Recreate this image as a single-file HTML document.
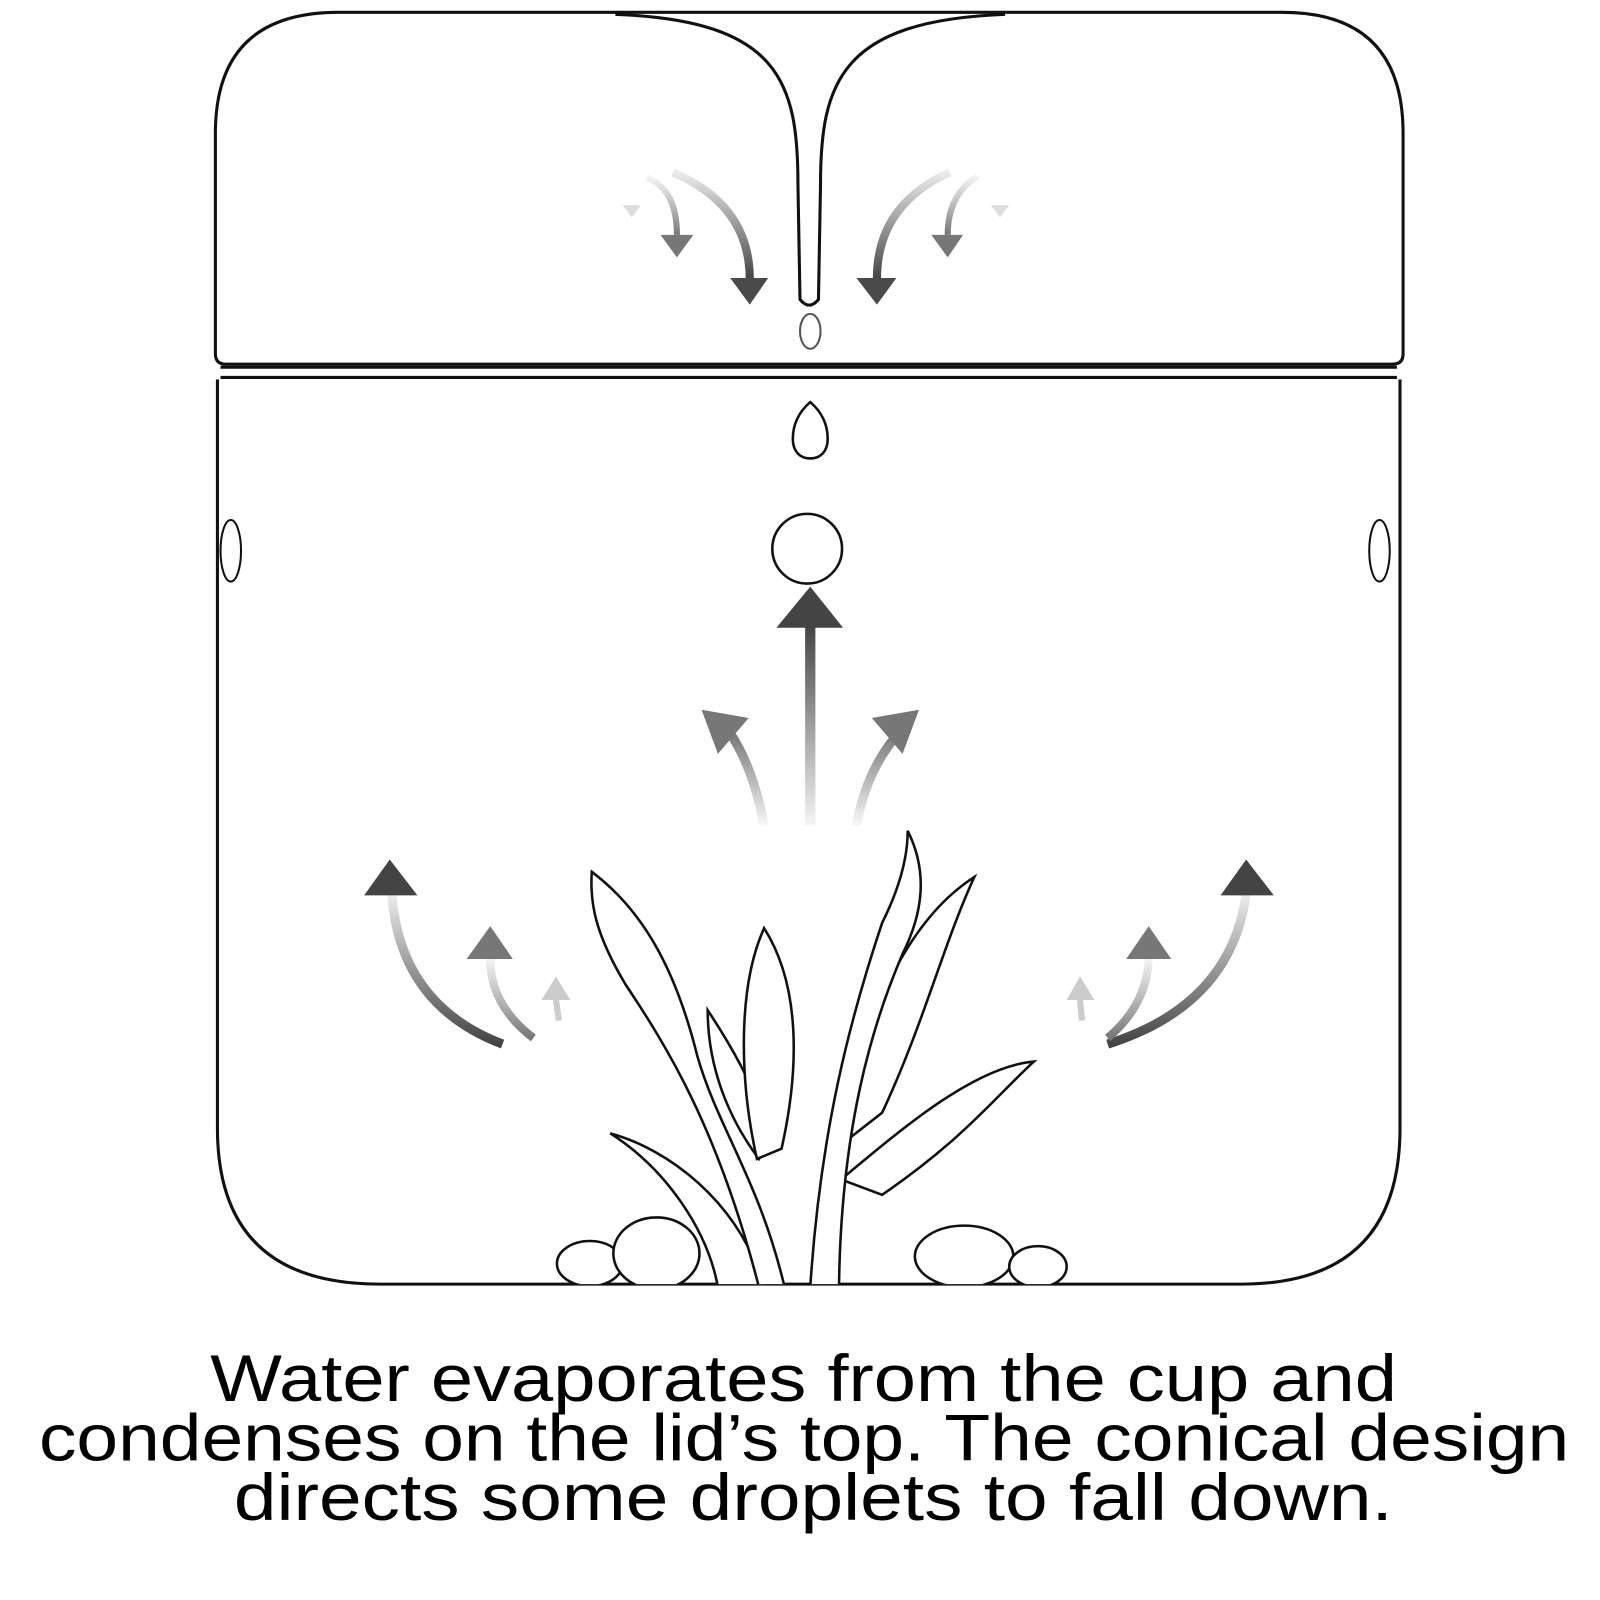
<!DOCTYPE html>
<html><head><meta charset="utf-8"><style>html,body{margin:0;padding:0;background:#fff}svg{display:block}</style></head>
<body>
<svg width="1600" height="1600" viewBox="0 0 1560 1560" xmlns="http://www.w3.org/2000/svg">
<defs>
<linearGradient id="gv" x1="0" y1="0" x2="0" y2="1"><stop offset="0" stop-color="#444"/><stop offset="1" stop-color="#444" stop-opacity="0.05"/></linearGradient>
<linearGradient id="gvl" x1="0" y1="0" x2="0" y2="1"><stop offset="0" stop-color="#777"/><stop offset="1" stop-color="#777" stop-opacity="0.05"/></linearGradient>
<linearGradient id="gd" x1="0" y1="0" x2="0" y2="1"><stop offset="0" stop-color="#444" stop-opacity="0.1"/><stop offset="1" stop-color="#444"/></linearGradient>
<linearGradient id="gdl" x1="0" y1="0" x2="0" y2="1"><stop offset="0" stop-color="#888" stop-opacity="0.1"/><stop offset="1" stop-color="#777"/></linearGradient>
<clipPath id="cup"><rect x="200" y="370" width="1180" height="882"/></clipPath>
</defs>
<g fill="none" stroke="#111" stroke-width="3">
<path d="M210 345 L210 130 Q210 12 330 12 L1250 12 Q1368 12 1368 130 L1368 345 Q1368 355 1358 355 L220 355 Q210 355 210 345 Z" fill="#fff"/>
<path d="M600 14 C760 20 778 80 778 180 L780 292 Q789 303 798 292 L800 180 C800 80 820 20 980 14" fill="#fff"/>
<path d="M215 358 L1362 358 M215 368 L1362 368"/>
<path d="M212 370 L212 1100 Q212 1252 370 1252 L1210 1252 Q1365 1252 1365 1100 L1365 370"/>
<ellipse cx="225" cy="537" rx="10" ry="30" stroke-width="2"/>
<ellipse cx="1345" cy="537" rx="10" ry="30" stroke-width="2"/>
<ellipse cx="790" cy="323" rx="10" ry="17" stroke-width="2" stroke="#555"/>
<path d="M790 392 C805 405 807 420 807 428 C807 440 800 447 790 447 C780 447 773 440 773 428 C773 420 775 405 790 392 Z" stroke-width="2.5"/>
<circle cx="787" cy="535" r="34" stroke-width="2.5"/>
</g>
<rect x="785" y="610" width="10" height="195" fill="url(#gv)"/>
<polygon points="757,612 790,572 822,612" fill="#444"/>
<path d="M745 805 Q735 750 712 715" stroke="url(#gvl)" stroke-width="9" fill="none"/>
<polygon points="684,692 730,700 700,735" fill="#777"/>
<path d="M835 805 Q845 750 876 715" stroke="url(#gvl)" stroke-width="9" fill="none"/>
<polygon points="896,692 850,700 880,735" fill="#777"/>
<path d="M490 1018 Q390 980 382 872" stroke="url(#gd)" stroke-width="9" fill="none"/>
<polygon points="355,873 380,838 407,873" fill="#444"/>
<path d="M520 1012 Q478 980 478 935" stroke="url(#gdl)" stroke-width="8" fill="none"/>
<polygon points="455,935 478,903 500,935" fill="#777"/>
<path d="M545 995 L542 975" stroke="#ccc" stroke-width="6"/>
<polygon points="528,975 542,952 556,975" fill="#ccc"/>
<path d="M1080 1018 Q1200 980 1215 872" stroke="url(#gd)" stroke-width="9" fill="none"/>
<polygon points="1190,873 1215,838 1242,873" fill="#444"/>
<path d="M1080 1012 Q1118 980 1120 935" stroke="url(#gdl)" stroke-width="8" fill="none"/>
<polygon points="1098,935 1120,903 1142,935" fill="#777"/>
<path d="M1055 995 L1053 975" stroke="#ccc" stroke-width="6"/>
<polygon points="1040,975 1053,952 1067,975" fill="#ccc"/>
<path d="M656 168 Q731 200 731 272" stroke="url(#gd)" stroke-width="8" fill="none"/>
<polygon points="712,271 749,271 731,297" fill="#4a4a4a"/>
<path d="M631 173 Q660 185 660 229" stroke="url(#gdl)" stroke-width="6" fill="none"/>
<polygon points="644,229 676,229 660,251" fill="#777"/>
<polygon points="607,200 625,200 616,212" fill="#ddd"/>
<path d="M926 168 Q855 200 855 272" stroke="url(#gd)" stroke-width="8" fill="none"/>
<polygon points="835,271 874,271 855,297" fill="#4a4a4a"/>
<path d="M953 172 Q924 190 924 229" stroke="url(#gdl)" stroke-width="6" fill="none"/>
<polygon points="908,229 939,229 924,251" fill="#777"/>
<polygon points="966,200 984,200 975,212" fill="#ddd"/>
<g clip-path="url(#cup)" fill="#fff" stroke="#111" stroke-width="2.5">
<ellipse cx="575" cy="1232" rx="32" ry="22"/>
<ellipse cx="640" cy="1222" rx="42" ry="35"/>
<ellipse cx="940" cy="1225" rx="48" ry="30"/>
<ellipse cx="1012" cy="1235" rx="28" ry="20"/>
<path d="M700 1255 C690 1200 650 1140 595 1105 C650 1120 720 1170 745 1255 Z"/>
<path d="M740 1255 C700 1100 650 1020 610 960 C580 910 575 880 577 850 C630 890 660 950 680 1030 C700 1100 740 1150 765 1255 Z"/>
<path d="M740 1130 C710 1090 690 1040 690 985 C720 1030 740 1070 752 1110 Z"/>
<path d="M738 1130 C720 1050 720 960 745 905 C780 960 780 1040 762 1120 Z"/>
<path d="M820 1150 C880 1100 950 1040 1008 1035 C970 1070 940 1110 860 1165 Z"/>
<path d="M815 1120 C840 1000 880 900 950 855 C920 920 900 1000 860 1085 Z"/>
<path d="M790 1255 C800 1100 830 990 860 900 C880 860 885 830 885 810 C905 850 900 890 880 930 C850 1000 820 1100 818 1255 Z"/>
</g>
<g font-family="'Liberation Sans', sans-serif" font-size="64" fill="#000">
<text x="205" y="1366" textLength="1157" lengthAdjust="spacingAndGlyphs">Water evaporates from the cup and</text>
<text x="38" y="1424" textLength="1492" lengthAdjust="spacingAndGlyphs">condenses on the lid’s top. The conical design</text>
<text x="228" y="1482" textLength="1130" lengthAdjust="spacingAndGlyphs">directs some droplets to fall down.</text>
</g>
</svg>
</body></html>
